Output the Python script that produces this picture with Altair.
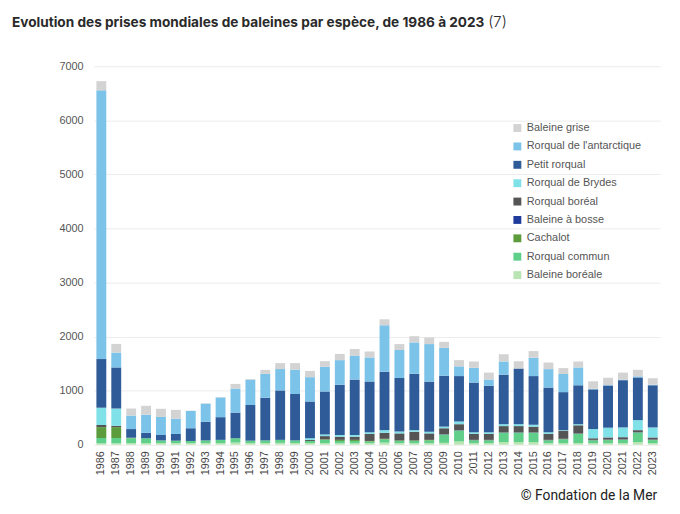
import altair as alt
import pandas as pd

years = list(range(1986, 2024))

species = ["Baleine grise", "Rorqual de l'antarctique", "Petit rorqual", "Rorqual de Brydes",
           "Rorqual boréal", "Baleine à bosse", "Cachalot", "Rorqual commun", "Baleine boréale"]
colors = ["#d3d3d3", "#7cc3ea", "#2f5b98", "#80e2e8", "#555555", "#1f3c9c", "#5c9c3c", "#5fcf8a", "#b9e5b2"]

baleine_boreale = [25, 25, 30, 30, 30, 30, 30, 30, 30, 40, 30, 30, 35, 30, 30, 30, 30, 30, 30, 40,
                   30, 30, 30, 35, 60, 30, 30, 50, 50, 50, 30, 30, 30, 30, 30, 30, 50, 30]
rorqual_commun = [100, 100, 90, 90, 50, 45, 40, 50, 60, 80, 45, 50, 55, 50, 40, 60, 40, 40, 30, 60,
                  40, 40, 50, 150, 200, 50, 50, 170, 170, 170, 50, 70, 170, 50, 55, 60, 175, 55]
cachalot = [200, 200, 10, 0, 0, 0, 0, 0, 0, 0, 0, 0, 0, 0, 0, 10, 20, 20, 10, 10,
            10, 10, 10, 5, 5, 5, 5, 5, 5, 5, 5, 5, 5, 5, 5, 5, 5, 5]
baleine_bosse = [0, 0, 0, 0, 0, 0, 0, 0, 0, 0, 0, 0, 0, 0, 0, 0, 0, 0, 0, 0,
                 0, 0, 0, 5, 5, 5, 5, 5, 5, 5, 5, 5, 5, 5, 5, 5, 5, 5]
rorqual_boreal = [40, 25, 0, 0, 0, 0, 0, 0, 0, 0, 0, 0, 0, 0, 20, 60, 60, 60, 130, 110,
                  130, 160, 120, 110, 110, 110, 110, 115, 115, 105, 110, 150, 150, 30, 40, 40, 35, 40]
rorqual_brydes = [320, 320, 0, 0, 0, 0, 0, 0, 0, 0, 0, 0, 0, 0, 30, 30, 30, 30, 30, 50,
                  35, 30, 30, 30, 50, 30, 30, 35, 35, 35, 30, 10, 20, 170, 180, 180, 185, 185]
petit_rorqual = [900, 760, 160, 100, 100, 125, 235, 345, 420, 475, 660, 790, 915, 858, 680, 795, 928, 1025, 940, 1080,
                 990, 1043, 928, 940, 840, 920, 860, 915, 1030, 900, 828, 703, 720, 734, 780, 874, 790, 780]
rorqual_antarctique = [4970, 275, 250, 335, 335, 280, 320, 335, 365, 445, 470, 440, 395, 451, 450, 457, 457, 445, 445, 860,
                       517, 580, 694, 518, 180, 274, 116, 245, 0, 341, 341, 335, 330, 10, 10, 10, 20, 10]
baleine_grise = [170, 160, 130, 165, 150, 165, 5, 5, 5, 85, 10, 75, 110, 121, 115, 104, 115, 121, 110, 110,
                 110, 115, 122, 110, 115, 116, 128, 134, 134, 122, 122, 110, 110, 140, 134, 130, 120, 120]

series = {
    "Baleine boréale": baleine_boreale,
    "Rorqual commun": rorqual_commun,
    "Cachalot": cachalot,
    "Baleine à bosse": baleine_bosse,
    "Rorqual boréal": rorqual_boreal,
    "Rorqual de Brydes": rorqual_brydes,
    "Petit rorqual": petit_rorqual,
    "Rorqual de l'antarctique": rorqual_antarctique,
    "Baleine grise": baleine_grise,
}

rows = []
for order, (name, vals) in enumerate(series.items()):
    for y, v in zip(years, vals):
        rows.append({"annee": str(y), "espece": name, "prises": v, "ordre": order})
df = pd.DataFrame(rows)

W, H = 573, 383

bars = alt.Chart(df).mark_bar(size=10).encode(
    x=alt.X("annee:N", title=None, sort=None,
            scale=alt.Scale(paddingInner=0.33, paddingOuter=0.16),
            axis=alt.Axis(labelAngle=-90, labelFontSize=11, labelColor="#444444",
                          labelFont="Liberation Sans", domain=False, ticks=False,
                          labelPadding=6, grid=False)),
    y=alt.Y("prises:Q", title=None, stack="zero",
            scale=alt.Scale(domain=[0, 7000], nice=False),
            axis=alt.Axis(values=list(range(0, 7001, 1000)), format="d", labelFontSize=11,
                          labelColor="#555555", labelFont="Liberation Sans", domain=False,
                          ticks=False, labelPadding=11, gridColor="#ececec")),
    color=alt.Color("espece:N", scale=alt.Scale(domain=species, range=colors),
                    sort=species,
                    legend=alt.Legend(title=None, orient="none", legendX=423, legendY=57,
                                      symbolType="square", symbolSize=64, symbolStrokeWidth=0,
                                      labelFontSize=11, labelColor="#555555",
                                      labelFont="Liberation Sans Narrow, Liberation Sans",
                                      rowPadding=6.6, labelOffset=4)),
    order=alt.Order("ordre:Q", sort="ascending"),
)

title_df = pd.DataFrame({"t": ["Evolution des prises mondiales de baleines par espèce, de 1986 à 2023"]})
title = alt.Chart(title_df).mark_text(align="left", baseline="alphabetic", fontSize=13.8,
                                       fontWeight="bold", font="Inter", color="#2a2a2a").encode(
    x=alt.value(-83), y=alt.value(-40), text="t:N")

ref_df = pd.DataFrame({"t": ["(7)"]})
ref = alt.Chart(ref_df).mark_text(align="left", baseline="alphabetic", fontSize=15,
                                   font="Inter", fontWeight=300, color="#2a2a2a").encode(
    x=alt.value(399), y=alt.value(-40), text="t:N")

credit_df = pd.DataFrame({"t": ["© Fondation de la Mer"]})
credit = alt.Chart(credit_df).mark_text(align="right", baseline="alphabetic", fontSize=14,
                                         font="Roboto", color="#222222").encode(
    x=alt.value(570), y=alt.value(439), text="t:N")

chart = alt.layer(bars, title, ref, credit).properties(
    width=W, height=H,
    padding={"left": 87, "top": 56, "right": 12, "bottom": 59},
    autosize=alt.AutoSizeParams(type="none"),
    background="white",
).configure_view(stroke=None)

chart.save("out.html", embed_options={"renderer": "svg", "actions": False})
